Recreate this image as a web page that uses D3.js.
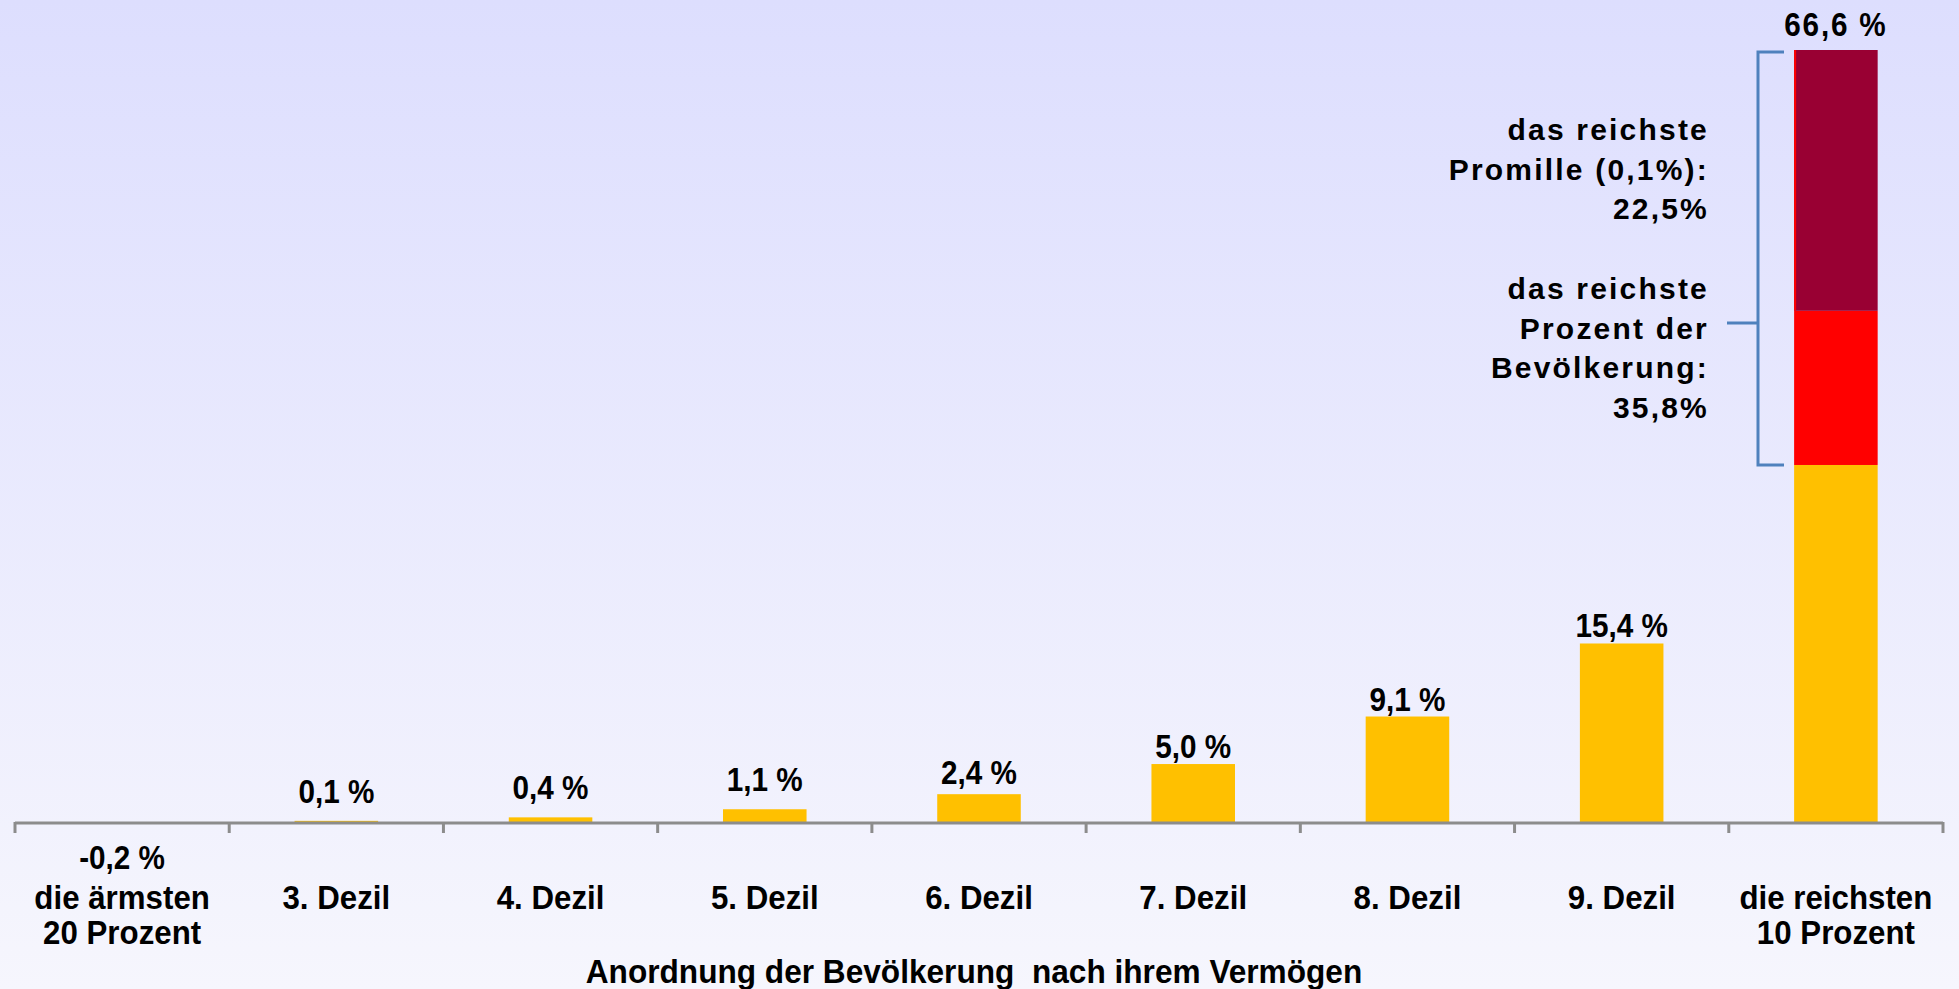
<!DOCTYPE html>
<html>
<head>
<meta charset="utf-8">
<script src="https://cdn.jsdelivr.net/npm/d3@7"></script>
<style>
  body { margin: 0; overflow: hidden; }
  text { font-family: "Liberation Sans", Arial, sans-serif; font-weight: bold; fill: #000; }
</style>
</head>
<body>
<svg id="chart" width="1959" height="989"></svg>
<script>
/* categories along the x axis, each may have two lines */
var categories = [
  ["die ärmsten", "20 Prozent"],
  ["3. Dezil"], ["4. Dezil"], ["5. Dezil"], ["6. Dezil"],
  ["7. Dezil"], ["8. Dezil"], ["9. Dezil"],
  ["die reichsten", "10 Prozent"]
];
var values = [-0.2, 0.1, 0.4, 1.1, 2.4, 5.0, 9.1, 15.4, 66.6];
var valueLabels = ["-0,2 %", "0,1 %", "0,4 %", "1,1 %", "2,4 %", "5,0 %", "9,1 %", "15,4 %", "66,6 %"];

/* split of the top decile: rest, top percent without top promille, top promille */
var topSplit = [30.8, 13.3, 22.5];
var topColors = ["#ffc000", "#ff0000", "#990033"];

var noteLines = [
  "das reichste", "Promille (0,1%):", "22,5%", "",
  "das reichste", "Prozent der", "Bevölkerung:", "35,8%"
];
var axisTitle = "Anordnung der Bevölkerung  nach ihrem Vermögen";

var W = 1959, H = 989;
var svg = d3.select("#chart");

// background gradient
var grad = svg.append("defs").append("linearGradient")
    .attr("id", "bg").attr("x1", 0).attr("y1", 0).attr("x2", 0).attr("y2", 1);
grad.append("stop").attr("offset", "0%").attr("stop-color", "#dddefe");
grad.append("stop").attr("offset", "100%").attr("stop-color", "#f6f6fd");
svg.append("rect").attr("width", W).attr("height", H).attr("fill", "url(#bg)");

var x = d3.scaleBand()
    .domain(d3.range(categories.length))
    .range([15, 1943])
    .paddingInner(0.61).paddingOuter(0.305);

var y = d3.scaleLinear().domain([0, 66.6]).range([822, 50]);

// regular bars (all but the last one)
var g = svg.append("g");
g.selectAll("rect.bar")
    .data(values.slice(0, 8))
    .enter().append("rect")
    .attr("class", "bar")
    .attr("x", function(d, i){ return x(i); })
    .attr("width", x.bandwidth())
    .attr("y", function(d){ return y(Math.max(d, 0)); })
    .attr("height", function(d){ return d > 0 ? y(0) - y(d) : 0; })
    .attr("fill", "#ffc000");

// stacked last bar
var stack = [];
var acc = 0;
topSplit.forEach(function(v, i){
    stack.push({y0: acc, y1: acc + v, color: topColors[i]});
    acc += v;
});
g.selectAll("rect.top")
    .data(stack)
    .enter().append("rect")
    .attr("class", "top")
    .attr("x", x(8))
    .attr("width", x.bandwidth())
    .attr("y", function(d){ return y(d.y1); })
    .attr("height", function(d){ return y(d.y0) - y(d.y1); })
    .attr("fill", function(d){ return d.color; });
// thin red edge along the dark segment
g.append("rect")
    .attr("x", x(8)).attr("width", 2)
    .attr("y", y(acc)).attr("height", y(stack[1].y1) - y(acc))
    .attr("fill", "#ff0000");

// x axis
var axisG = svg.append("g");
axisG.append("line")
    .attr("x1", 15).attr("x2", 1943)
    .attr("y1", y(0) + 1).attr("y2", y(0) + 1)
    .attr("stroke", "#8c8c8c").attr("stroke-width", 3);
var tickPos = d3.range(categories.length + 1).map(function(i){
    return 15 + i * x.step();
});
axisG.selectAll("line.tick")
    .data(tickPos)
    .enter().append("line")
    .attr("class", "tick")
    .attr("x1", function(d){ return d; }).attr("x2", function(d){ return d; })
    .attr("y1", y(0)).attr("y2", y(0) + 11)
    .attr("stroke", "#8c8c8c").attr("stroke-width", 3);

// value labels
svg.selectAll("text.val")
    .data(values)
    .enter().append("text")
    .attr("class", "val")
    .attr("text-anchor", "middle")
    .attr("font-size", 33)
    .attr("letter-spacing", function(d, i){ return i === 8 ? 2 : 0; })
    .attr("transform", function(d, i){
        var cx = x(i) + x.bandwidth() / 2;
        var yy;
        if (d < 0) {
            yy = y(0) + 47;
        } else {
            var h = y(0) - y(d);
            var gap = h < 20 ? 18 : (h < 40 ? 10 : (h > 400 ? 14 : 6));
            yy = y(d) - gap;
        }
        return "translate(" + cx + "," + yy + ") scale(0.9,1)";
    })
    .text(function(d, i){ return valueLabels[i]; });

// category labels
var catG = svg.selectAll("text.cat")
    .data(categories)
    .enter().append("text")
    .attr("class", "cat")
    .attr("text-anchor", "middle")
    .attr("font-size", 34)
    .attr("transform", function(d, i){
        return "translate(" + (x(i) + x.bandwidth() / 2) + ",909) scale(0.92,1)";
    });
catG.selectAll("tspan")
    .data(function(d){ return d; })
    .enter().append("tspan")
    .attr("x", 0)
    .attr("dy", function(d, i){ return i === 0 ? 0 : 35; })
    .text(function(d){ return d; });

// axis title
svg.append("text")
    .attr("text-anchor", "middle")
    .attr("font-size", 34)
    .attr("xml:space", "preserve")
    .attr("transform", "translate(974,983) scale(0.93,1)")
    .text(axisTitle);

// note on the top bar
var note = svg.append("text")
    .attr("text-anchor", "end")
    .attr("font-size", 30)
    .attr("letter-spacing", 2.2)
    .attr("x", 1709).attr("y", 140);
note.selectAll("tspan")
    .data(noteLines)
    .enter().append("tspan")
    .attr("x", 1709)
    .attr("dy", function(d, i){ return i === 0 ? 0 : 39.7; })
    .text(function(d){ return d === "" ? "\u00a0" : d; });

// bracket
var bx = 1758, btop = y(acc) + 2, bbot = y(topSplit[0]);
var bracket = d3.path();
bracket.moveTo(1784, btop);
bracket.lineTo(bx, btop);
bracket.lineTo(bx, bbot);
bracket.lineTo(1784, bbot);
bracket.moveTo(1727, 323);
bracket.lineTo(bx, 323);
svg.append("path")
    .attr("d", bracket.toString())
    .attr("fill", "none")
    .attr("stroke", "#4f81bd")
    .attr("stroke-width", 3);
</script>
</body>
</html>
